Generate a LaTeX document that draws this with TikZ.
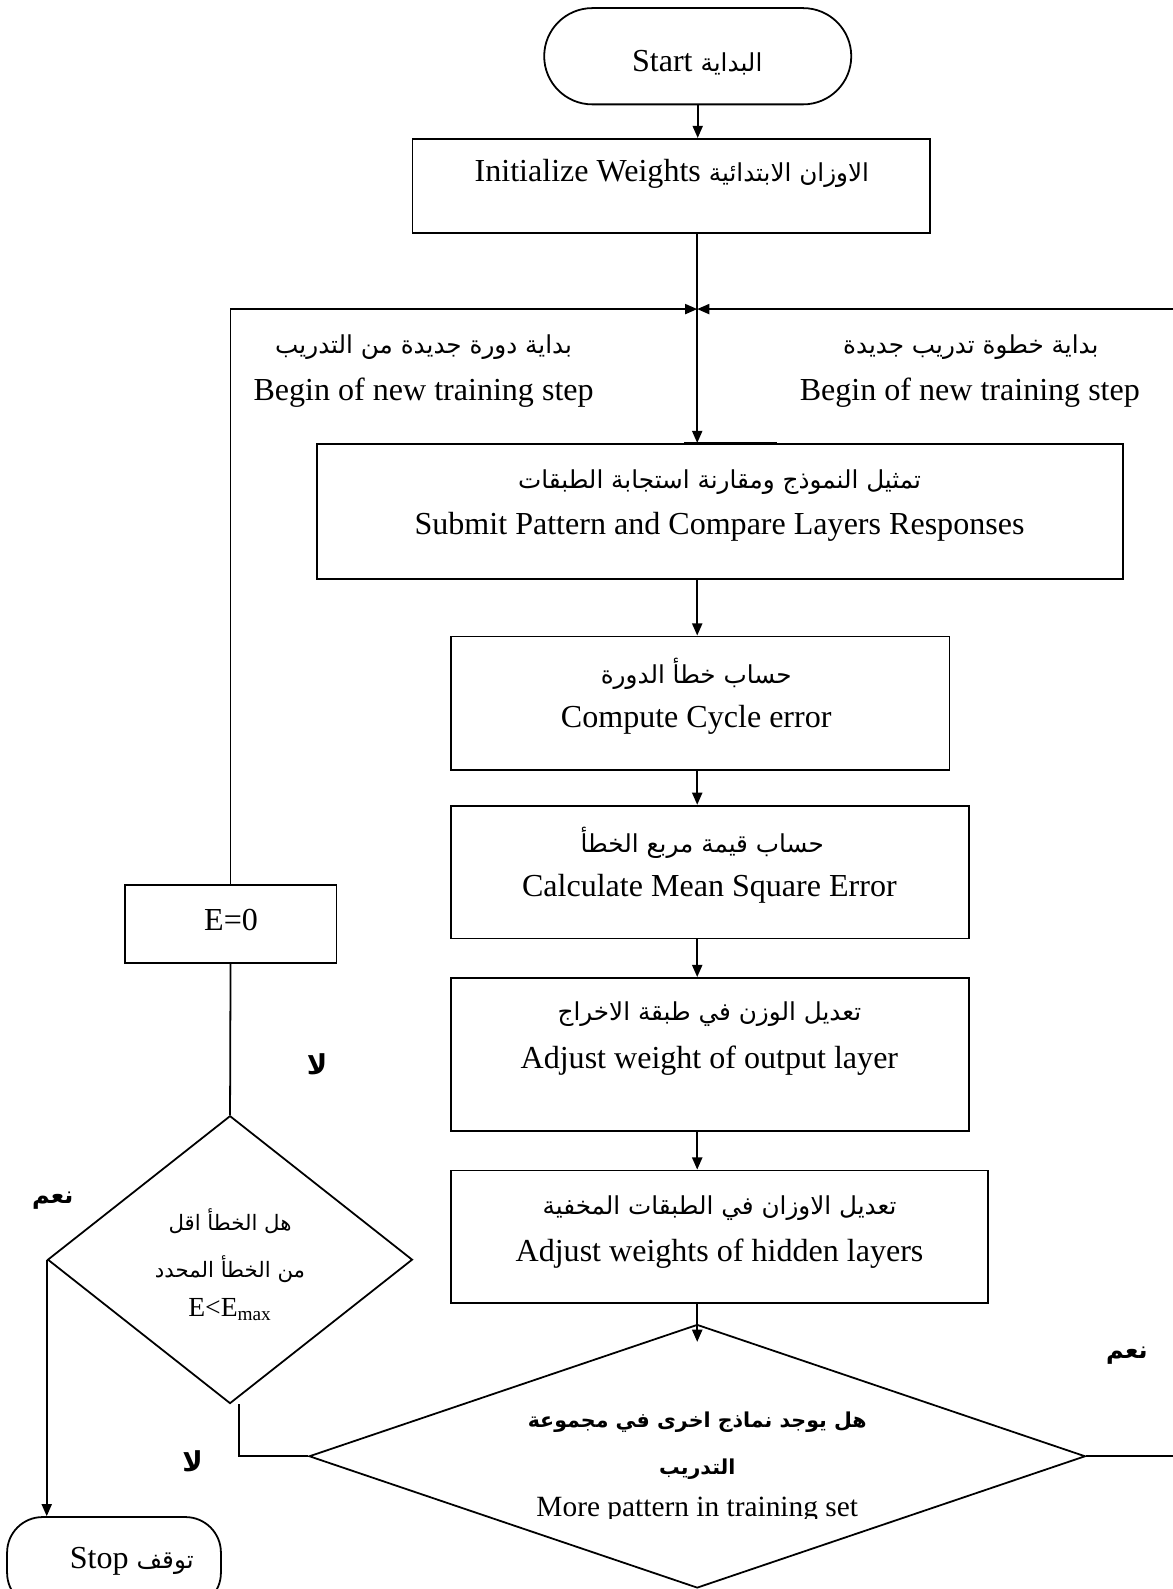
\documentclass[tikz,border=0pt]{standalone}
\usepackage{fontspec}
\setmainfont{Liberation Serif}
\newfontfamily\arabicfont[Script=Arabic,Scale=0.77]{DejaVu Sans}
\TeXXeTstate=1
\usetikzlibrary{arrows.meta,shapes.geometric}
\newcommand{\artext}[1]{{\arabicfont\beginR #1\endR}}

\begin{document}
\begin{tikzpicture}[x=0.2mm, y=-0.2mm, line width=1pt,
    box/.style={draw, rectangle, inner sep=0pt},
    test/.style={draw, diamond, inner sep=0pt},
    txt/.style={font=\fontsize{18}{22}\selectfont, inner sep=1pt},
    small/.style={font=\fontsize{15.5}{18}\selectfont, inner sep=1pt},
    arr/.style={-{Triangle[length=2.4mm,width=2mm]}}]
    \path[use as bounding box, fill=white] (0,0) rectangle (1157,1568);
    % the boxes of the flow (empty nodes, the texts come later)
    \node[box, rounded corners=9.5mm, minimum width=60.6mm, minimum height=19mm] (start) at (688.5,55.5) {};
    \node[box, minimum width=102.2mm, minimum height=18.6mm] (init) at (662.5,183.5) {};
    \node[box, minimum width=159mm, minimum height=26.6mm] (submit) at (710.5,504.5) {};
    \node[box, minimum width=98.4mm, minimum height=26.4mm] (compute) at (691,694) {};
    \node[box, minimum width=102.2mm, minimum height=26.2mm] (calc) at (700.5,860.5) {};
    \node[box, minimum width=102.2mm, minimum height=30.2mm] (outl) at (700.5,1040.5) {};
    \node[box, minimum width=106mm, minimum height=26.2mm] (hidl) at (710,1220.5) {};
    \node[test, minimum width=153.2mm, minimum height=52mm] (more) at (688,1437) {};
    \node[box, minimum width=41.8mm, minimum height=15.4mm] (ezero) at (227.5,911.5) {};
    \node[test, minimum width=72mm, minimum height=56.8mm] (errq) at (227,1243) {};
    \node[box, rounded corners=7mm, minimum width=42.2mm, minimum height=18mm] (stop) at (112.5,1542) {};
    % the point where the two loops come back
    \coordinate (jn) at (688,305);
    % the texts
    \node[txt] (startT) at (688,62) {Start \artext{البداية}};
    \node[txt] (initT) at (663,172) {Initialize Weights \artext{الاوزان الابتدائية}};
    \node[txt] (cycA) at (418,343) {\artext{بداية دورة جديدة من التدريب}};
    \node[txt] (cycE) at (418,387) {Begin of new training step};
    \node[txt] (stepA) at (958,343) {\artext{بداية خطوة تدريب جديدة}};
    \node[txt] (stepE) at (957,387) {Begin of new training step};
    \node[txt] (submitA) at (710,476) {\artext{تمثيل النموذج ومقارنة استجابة الطبقات}};
    \node[txt] (submitE) at (710,520) {Submit Pattern and Compare Layers Responses};
    \node[txt] (computeA) at (687,665) {\artext{حساب خطأ الدورة}};
    \node[txt] (computeE) at (687,710) {Compute Cycle error};
    \node[txt] (calcA) at (693,832) {\artext{حساب قيمة مربع الخطأ}};
    \node[txt] (calcE) at (700,877) {Calculate Mean Square Error};
    \node[txt] (outlA) at (700,1001) {\artext{تعديل الوزن في طبقة الاخراج}};
    \node[txt] (outlE) at (700,1047) {Adjust weight of output layer};
    \node[txt] (hidlA) at (710,1192) {\artext{تعديل الاوزان في الطبقات  المخفية}};
    \node[txt] (hidlE) at (710,1237) {Adjust weights of hidden layers};
    \node[txt] (ezeroT) at (228,908) {E=0};
    \node[small] (errqA) at (227,1205) {\artext{هل الخطأ اقل}};
    \node[small] (errqB) at (227,1252) {\artext{من الخطأ المحدد}};
    \node[small] (errqE) at (227,1292) {E<E\textsubscript{max}};
    \node[small, font=\fontsize{15}{18}\selectfont\bfseries] (moreA) at (688,1403) {\artext{هل يوجد نماذج اخرى في مجموعة}};
    \node[small, font=\fontsize{15}{18}\selectfont\bfseries] (moreB) at (688,1450) {\artext{التدريب}};
    % the english line of the last test is cut at the bottom
    \begin{scope}
      \clip (300,1460) rectangle (1100,1498);
      \node[txt, font=\fontsize{16.5}{20}\selectfont] (moreE) at (688,1490) {More pattern in training set};
    \end{scope}
    \node[txt] (stopT) at (130,1541) {Stop \artext{توقف}};
    % yes / no
    \node[txt, font=\fontsize{20}{24}\selectfont\bfseries] (no1) at (313,1050) {\artext{لا}};
    \node[txt, font=\fontsize{17.5}{21}\selectfont\bfseries] (yes1) at (52,1185) {\artext{نعم}};
    \node[txt, font=\fontsize{20}{24}\selectfont\bfseries] (no2) at (190,1442) {\artext{لا}};
    \node[txt, font=\fontsize{17.5}{21}\selectfont\bfseries] (yes2) at (1112,1338) {\artext{نعم}};
    % draw the arrows
    \draw[arr] (start) -- (start.south |- init.north);
    \draw[arr] (init.south -| jn) -- (submit.north -| jn);
    \draw[line width=1.8pt] (675,438) -- (767,438);
    \draw[arr] (submit.south -| jn) -- (compute.north -| jn);
    \draw[arr] (compute.south -| jn) -- (calc.north -| jn);
    \draw[arr] (calc.south -| jn) -- (outl.north -| jn);
    \draw[arr] (outl.south -| jn) -- (hidl.north -| jn);
    \draw[arr] (hidl.south -| jn) -- ([yshift=-3.6mm]more.north);
    \draw[arr] (ezero.north) |- (jn);
    \draw[arr] (more.east) -- ++(120,0) |- (jn);
    \draw (ezero.south) -- (errq.north);
    \draw (more.west) -| ([xshift=1.8mm]errq.south);
    \draw[arr] (errq.west) -- (errq.west |- stop.north);
\end{tikzpicture}
\end{document}
